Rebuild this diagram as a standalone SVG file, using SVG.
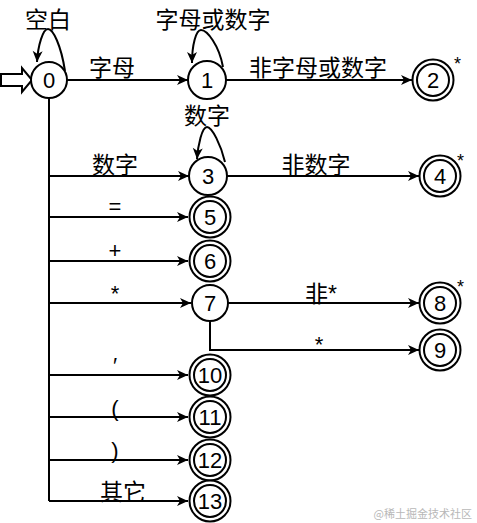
<svg xmlns="http://www.w3.org/2000/svg" width="477" height="523" viewBox="0 0 477 523">
<defs>
<marker id="arr" markerUnits="userSpaceOnUse" markerWidth="14" markerHeight="12" viewBox="-1 -6 14 12" refX="11" refY="0" orient="auto">
<path d="M0,-5 L11,0 L0,5 L3,0 Z" fill="#000"/>
</marker>
</defs>
<style>
.n{fill:#fff;stroke:#000;stroke-width:2}
.t{font-family:"Liberation Sans",Arial,sans-serif;font-size:22px;text-anchor:middle;fill:#000}
.l{font-family:"Liberation Sans","Noto Sans CJK SC",sans-serif;font-size:23px;text-anchor:middle;fill:#000}
.s{font-family:"Liberation Sans",Arial,sans-serif;font-size:18px;fill:#000}
.e{fill:none;stroke:#000;stroke-width:2;marker-end:url(#arr)}
.p{fill:none;stroke:#000;stroke-width:2}
</style>
<rect width="477" height="523" fill="#fff"/>
<g id="connectors">
<path class="p" d="M1,74 H22 V68 L32,80 L22,92 V86 H1 Z" fill="#fff"/>
<path class="e" d="M65,71 C61,45 53,29 48,29 C43,29 38,45 37,62"/>
<path class="e" d="M67,80 H188"/>
<path class="e" d="M223,67 C219,45 207,30 201,30 C196,30 192,45 192,63"/>
<path class="e" d="M226,80 H412"/>
<path class="p" d="M49,98 V501"/>
<path class="e" d="M49,176 H189"/>
<path class="e" d="M225,162 C221,145 212,127 207,127 C202,127 198,145 197,159"/>
<path class="e" d="M227,176 H419"/>
<path class="e" d="M49,217 H188"/>
<path class="e" d="M49,261 H188"/>
<path class="e" d="M49,303 H191"/>
<path class="e" d="M228,303 H419"/>
<path class="e" d="M210,321 V350 H419"/>
<path class="e" d="M49,375 H188"/>
<path class="e" d="M49,417 H188"/>
<path class="e" d="M49,460 H188"/>
<path class="e" d="M49,501 H188"/>
</g>
<g id="edge-labels">
<text class="l" x="48" y="28">空白</text>
<text class="l" x="112" y="76">字母</text>
<text class="l" x="213" y="28">字母或数字</text>
<text class="l" x="318" y="76">非字母或数字</text>
<text class="l" x="207" y="124">数字</text>
<text class="l" x="115" y="173">数字</text>
<text class="l" x="316" y="173">非数字</text>
<text class="t" x="115" y="214">=</text>
<text class="t" x="115" y="258">+</text>
<text class="t" x="115" y="301">*</text>
<text class="l" x="321" y="302">非*</text>
<text class="t" x="319" y="352">*</text>
<text class="t" x="115" y="373">′</text>
<text class="t" x="115" y="416">(</text>
<text class="t" x="115" y="458">)</text>
<text class="l" x="123" y="500">其它</text>
</g>
<g id="node0"><circle class="n" cx="49" cy="80" r="18"/><text class="t" x="49" y="88">0</text></g>
<g id="node1"><circle class="n" cx="207" cy="80" r="19"/><text class="t" x="207" y="88">1</text></g>
<g id="node2"><circle class="n" cx="433" cy="80" r="20.5"/><circle class="n" cx="433" cy="80" r="16"/><text class="t" x="433" y="88">2</text><text class="s" x="454" y="70">*</text></g>
<g id="node3"><circle class="n" cx="208" cy="176" r="19"/><text class="t" x="208" y="184">3</text></g>
<g id="node4"><circle class="n" cx="440" cy="176" r="20.5"/><circle class="n" cx="440" cy="176" r="16"/><text class="t" x="440" y="184">4</text><text class="s" x="457" y="167">*</text></g>
<g id="node5"><circle class="n" cx="210" cy="217" r="20.5"/><circle class="n" cx="210" cy="217" r="16"/><text class="t" x="210" y="225">5</text></g>
<g id="node6"><circle class="n" cx="210" cy="261" r="20.5"/><circle class="n" cx="210" cy="261" r="16"/><text class="t" x="210" y="269">6</text></g>
<g id="node7"><circle class="n" cx="210" cy="303" r="18"/><text class="t" x="210" y="311">7</text></g>
<g id="node8"><circle class="n" cx="440" cy="303" r="20.5"/><circle class="n" cx="440" cy="303" r="16"/><text class="t" x="440" y="311">8</text><text class="s" x="457" y="293">*</text></g>
<g id="node9"><circle class="n" cx="440" cy="350" r="20.5"/><circle class="n" cx="440" cy="350" r="16"/><text class="t" x="440" y="358">9</text></g>
<g id="node10"><circle class="n" cx="210" cy="375" r="20.5"/><circle class="n" cx="210" cy="375" r="16"/><text class="t" x="210" y="383">10</text></g>
<g id="node11"><circle class="n" cx="210" cy="417" r="20.5"/><circle class="n" cx="210" cy="417" r="16"/><text class="t" x="210" y="425">11</text></g>
<g id="node12"><circle class="n" cx="210" cy="460" r="20.5"/><circle class="n" cx="210" cy="460" r="16"/><text class="t" x="210" y="468">12</text></g>
<g id="node13"><circle class="n" cx="210" cy="501" r="20.5"/><circle class="n" cx="210" cy="501" r="16"/><text class="t" x="210" y="509">13</text></g>
<text x="472" y="518" font-family="'Noto Sans CJK SC',sans-serif" font-size="11" fill="#b8b8b8" text-anchor="end">@稀土掘金技术社区</text>
</svg>
